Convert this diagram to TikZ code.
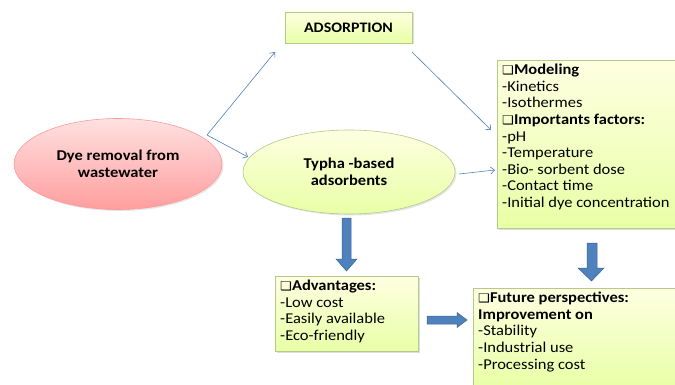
\documentclass[tikz,border=0pt]{standalone}
\usepackage{fontspec}
\setmainfont[FakeStretch=1.1]{Carlito}
\newfontfamily\symfont[FakeStretch=1.1]{DejaVu Sans}
\usetikzlibrary{arrows.meta,shadows,shapes.geometric}
\definecolor{arrowblue}{HTML}{4F81BD}
\definecolor{arrowedge}{HTML}{3A6496}
\definecolor{boxedge}{HTML}{B5CB8A}
\newcommand{\chk}{{\symfont\bfseries\fontsize{12}{12}\selectfont ❑}}
\tikzset{
  greenbox/.style={draw=boxedge, line width=0.6pt, top color=green!4!yellow!12!white, bottom color=green!25!yellow!35!white,
    drop shadow={shadow xshift=1.5pt, shadow yshift=-1.5pt, fill=black!25}, anchor=north west, inner sep=0pt},
  boxtext/.style={anchor=north west, align=left, inner xsep=5pt, inner ysep=4pt, font=\fontsize{15}{16.6}\selectfont},
  redell/.style={ellipse, draw=red!40!white, line width=0.6pt, top color=red!12!white, bottom color=red!38!white,
    drop shadow={shadow xshift=1.5pt, shadow yshift=-1.5pt, fill=black!20}, font=\bfseries\fontsize{15}{17}\selectfont, align=center},
  greenell/.style={ellipse, draw=boxedge, line width=0.6pt, top color=green!4!yellow!12!white, bottom color=green!25!yellow!35!white,
    drop shadow={shadow xshift=1.5pt, shadow yshift=-1.5pt, fill=black!20}, font=\bfseries\fontsize{15}{17}\selectfont, align=center},
  thinarrow/.style={draw=arrowblue, line width=0.6pt, -{Straight Barb[length=4pt,width=7pt]}},
  blockarrow/.style={fill=arrowblue, draw=arrowedge, line width=0.5pt}
}
\begin{document}
\begin{tikzpicture}[x=1pt,y=-1pt]
\useasboundingbox (0,0) rectangle (675,385);
\fill[white] (0,0) rectangle (675,385);

% ellipses
\node[redell, minimum width=208, minimum height=91] (dye) at (118,164) {Dye removal from\\wastewater};
\node[greenell, minimum width=212, minimum height=84] (typha) at (349,172) {Typha -based\\adsorbents};

% ADSORPTION
\node[greenbox, anchor=center, align=center, minimum width=127, minimum height=31, font=\bfseries\fontsize{14.5}{14}\selectfont] (ads) at (348.5,27.5) {ADSORPTION};

% Modeling box
\node[greenbox, minimum width=181, minimum height=168] (model) at (497,60) {};
\node[boxtext] (modelT) at (model.north west)
 {\chk\textbf{Modeling}\\-Kinetics\\-Isothermes\\\chk\textbf{Importants factors:}\\-pH\\-Temperature\\-Bio- sorbent dose\\-Contact time\\-Initial dye concentration};

% Advantages box
\node[greenbox, minimum width=143, minimum height=75] (adv) at (275,276) {};
\node[boxtext] (advT) at (adv.north west)
 {\chk\textbf{Advantages:}\\-Low cost\\-Easily available\\-Eco-friendly};

% Future box
\node[greenbox, minimum width=205, minimum height=100] (fut) at (473,288) {};
\node[boxtext] (futT) at (fut.north west)
 {\chk\textbf{Future perspectives:}\\\textbf{Improvement on}\\-Stability\\-Industrial use\\-Processing cost};

% thin arrows
\coordinate (split) at (207,135);
\coordinate (adsIn) at (275,52);
\coordinate (typIn) at (248,157);
\coordinate (adsOut) at (412,52);
\coordinate (modIn1) at (491,130);
\coordinate (typOut) at (459,174);
\coordinate (modIn2) at (495,170);
\draw[thinarrow] (split) -- (adsIn);
\draw[thinarrow] (split) -- (typIn);
\draw[thinarrow] (adsOut) -- (modIn1);
\draw[thinarrow] (typOut) -- (modIn2);

% block arrows
\draw[blockarrow] (342,218) -- (351,218) -- (351,259) -- (357,259) -- (346.5,271) -- (336,259) -- (342,259) -- cycle;
\draw[blockarrow] (587,243) -- (597,243) -- (597,268) -- (604,268) -- (591.5,281) -- (578,268) -- (587,268) -- cycle;
\draw[blockarrow] (427,316) -- (457,316) -- (457,312.5) -- (467,320) -- (457,327.5) -- (457,324) -- (427,324) -- cycle;
\end{tikzpicture}
\end{document}
